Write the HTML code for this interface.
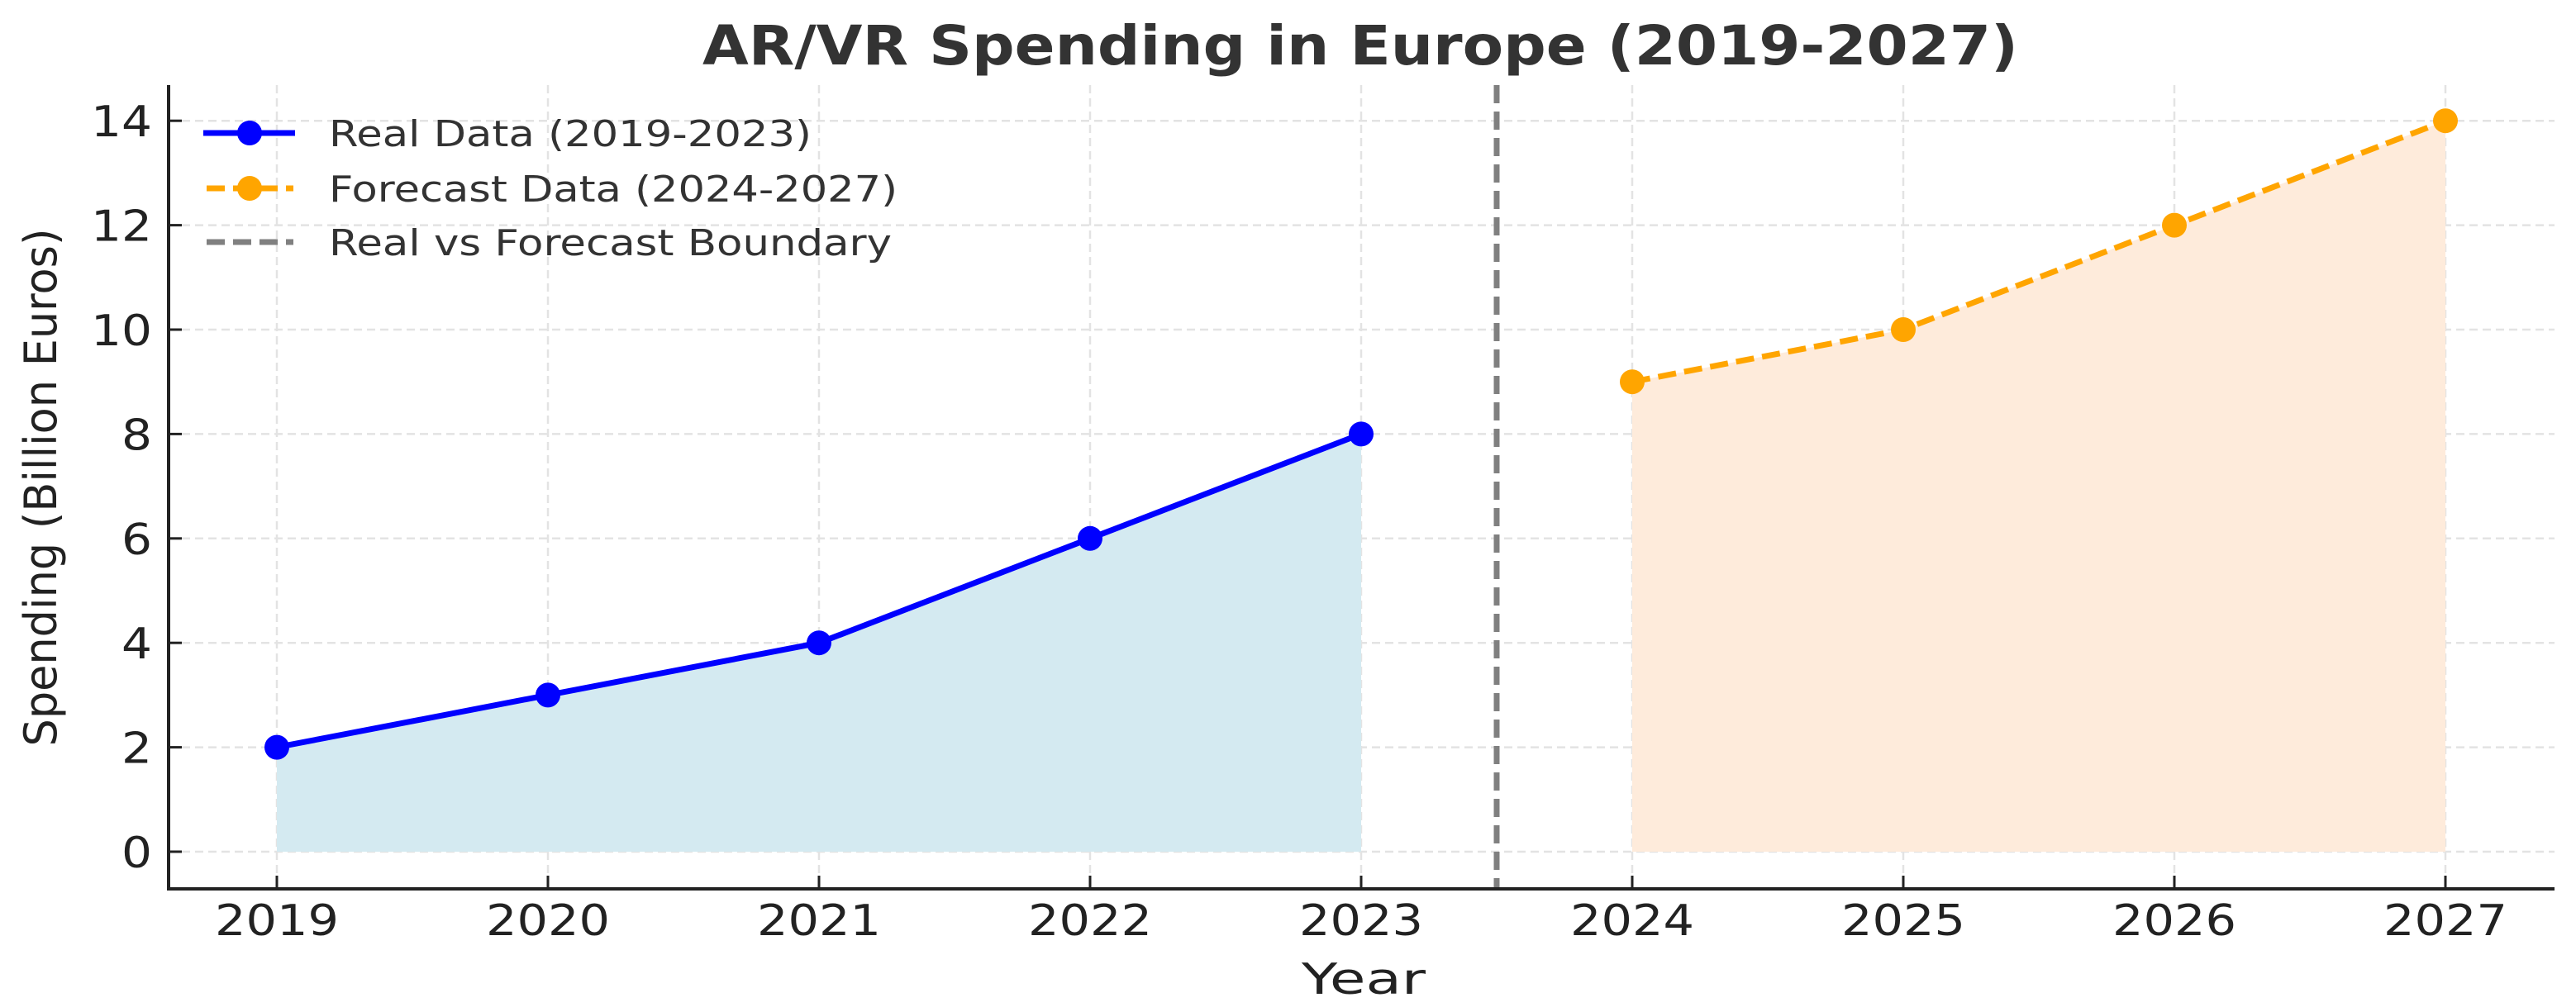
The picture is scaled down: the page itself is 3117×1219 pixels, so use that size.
<!DOCTYPE html>
<html><head><meta charset="utf-8"><style>
html,body{margin:0;padding:0;background:#fff;}
svg{display:block;font-family:"DejaVu Sans","Liberation Sans",sans-serif;}
</style></head><body>
<svg id="chart" width="3117" height="1219" viewBox="0 0 3117 1219" xmlns="http://www.w3.org/2000/svg">
<rect width="3117" height="1219" fill="#fff"/>
<g id="grid"></g>
<g id="fills"></g>
<g id="lines"></g>
<g id="axes"></g>
<text x="1646" y="78" text-anchor="middle" font-size="66" font-weight="bold" fill="#333" textLength="1592" lengthAdjust="spacingAndGlyphs">AR/VR Spending in Europe (2019-2027)</text>
<text x="1650" y="1203" text-anchor="middle" font-size="52" fill="#222" textLength="150" lengthAdjust="spacingAndGlyphs">Year</text>
<text transform="translate(68,590) rotate(-90)" text-anchor="middle" font-size="54" fill="#222" textLength="627" lengthAdjust="spacingAndGlyphs">Spending (Billion Euros)</text>
<g>
  <g>
    <line x1="246" y1="161" x2="357" y2="161" stroke="#0000ff" stroke-width="7"/>
    <circle cx="302" cy="161" r="15" fill="#0000ff"/>
    <text x="398" y="177" font-size="44" fill="#333" textLength="584" lengthAdjust="spacingAndGlyphs">Real Data (2019-2023)</text>
  </g>
  <g>
    <line x1="250" y1="228" x2="355" y2="228" stroke="#ffa500" stroke-width="7" stroke-dasharray="22 10"/>
    <circle cx="302" cy="228" r="15" fill="#ffa500"/>
    <text x="398" y="244" font-size="44" fill="#333" textLength="688" lengthAdjust="spacingAndGlyphs">Forecast Data (2024-2027)</text>
  </g>
  <g>
    <line x1="250" y1="293" x2="355" y2="293" stroke="#808080" stroke-width="7" stroke-dasharray="22 10"/>
    <text x="398" y="309" font-size="44" fill="#333" textLength="681" lengthAdjust="spacingAndGlyphs">Real vs Forecast Boundary</text>
  </g>
</g>
</svg>
<script>
const realYears = [2019, 2020, 2021, 2022, 2023];
const realValues = [2, 3, 4, 6, 8];
const forecastYears = [2024, 2025, 2026, 2027];
const forecastValues = [9, 10, 12, 14];
const xTicks = [2019, 2020, 2021, 2022, 2023, 2024, 2025, 2026, 2027];
const yTicks = [0, 2, 4, 6, 8, 10, 12, 14];
const boundaryYear = [2023.5];

const NS = "http://www.w3.org/2000/svg";
const X0 = 335, XS = 328, Y0 = 1031, YS = 63.2;
const LEFT = 204, RIGHT = 3091, TOP = 103, BOTTOM = 1076;
function xs(v){ return X0 + (v - 2019) * XS; }
function ys(v){ return Y0 - v * YS; }
function mk(tag, attrs, parent){
  const e = document.createElementNS(NS, tag);
  for (const k in attrs) e.setAttribute(k, attrs[k]);
  parent.appendChild(e);
  return e;
}
const grid = document.getElementById('grid');
const fills = document.getElementById('fills');
const lines = document.getElementById('lines');
const axes = document.getElementById('axes');

yTicks.forEach(t => {
  const g = mk('line', {x1: LEFT, x2: RIGHT, y1: ys(t), y2: ys(t), stroke: '#e3e3e3', 'stroke-width': 2.5, 'stroke-dasharray': '10 6'}, grid);
  
  
  const tk = mk('line', {x1: LEFT, x2: LEFT + 16, y1: ys(t), y2: ys(t), stroke: '#222', 'stroke-width': 3}, axes);
  
  
  const s = String(t);
  const lb = mk('text', {x: 184, y: ys(t) + 19, 'text-anchor': 'end', 'font-size': 52, fill: '#222', textLength: s.length * 37, lengthAdjust: 'spacingAndGlyphs'}, axes);
  lb.textContent = s;
  
  
});
xTicks.forEach(t => {
  const g = mk('line', {x1: xs(t), x2: xs(t), y1: TOP, y2: BOTTOM, stroke: '#e3e3e3', 'stroke-width': 2.5, 'stroke-dasharray': '10 6'}, grid);
  
  
  const tk = mk('line', {x1: xs(t), x2: xs(t), y1: BOTTOM - 16, y2: BOTTOM, stroke: '#222', 'stroke-width': 3}, axes);
  
  
  const lb = mk('text', {x: xs(t), y: 1132, 'text-anchor': 'middle', 'font-size': 52, fill: '#222', textLength: 150, lengthAdjust: 'spacingAndGlyphs'}, axes);
  lb.textContent = String(t);
  
  
});
const spL = mk('line', {x1: LEFT, x2: LEFT, y1: TOP, y2: BOTTOM, stroke: '#222', 'stroke-width': 4}, axes);


const spB = mk('line', {x1: LEFT - 2, x2: RIGHT, y1: BOTTOM, y2: BOTTOM, stroke: '#222', 'stroke-width': 4}, axes);



function area(xv, yv, color, name){
  let d = 'M' + xs(xv[0]) + ',' + ys(0);
  xv.forEach((x, i) => { d += ' L' + xs(x) + ',' + ys(yv[i]); });
  d += ' L' + xs(xv[xv.length - 1]) + ',' + ys(0) + ' Z';
  const p = mk('path', {d: d, fill: color}, fills);
  
  
}
area(realYears, realValues, '#d4eaf1', 'real-area');
area(forecastYears, forecastValues, '#feebdb', 'forecast-area');

const bd = mk('line', {x1: xs(boundaryYear[0]), x2: xs(boundaryYear[0]), y1: TOP, y2: BOTTOM, stroke: '#808080', 'stroke-width': 7, 'stroke-dasharray': '22 10'}, lines);



function series(xv, yv, color, dash, name){
  const pts = xv.map((x, i) => xs(x) + ',' + ys(yv[i])).join(' ');
  const attrs = {points: pts, fill: 'none', stroke: color, 'stroke-width': 7};
  if (dash) attrs['stroke-dasharray'] = dash;
  const l = mk('polyline', attrs, lines);
  
  
  xv.forEach((x, i) => {
    const c = mk('circle', {cx: xs(x), cy: ys(yv[i]), r: 15, fill: color}, lines);
    
    
  });
}
series(realYears, realValues, '#0000ff', null, 'real');
series(forecastYears, forecastValues, '#ffa500', '22 10', 'forecast');
</script>
</body></html>
